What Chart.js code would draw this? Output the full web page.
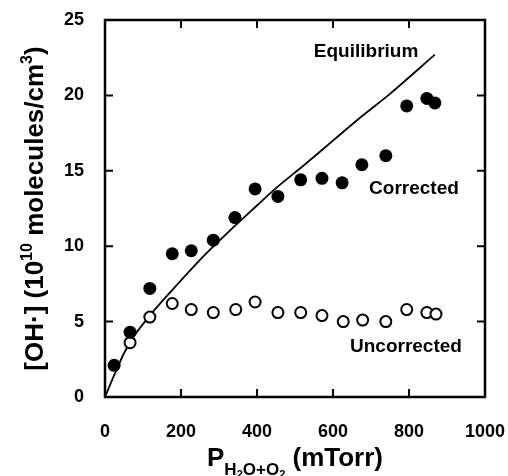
<!DOCTYPE html>
<html lang="en">
<head>
  <meta charset="UTF-8" />
  <title>OH concentration vs pressure</title>
  <script src="https://cdn.jsdelivr.net/npm/chart.js"></script>
  <style>
    html, body { margin: 0; padding: 0; background: #fff; }
    #wrap { width: 508px; height: 476px; }
  </style>
</head>
<body>
  <div id="wrap"><canvas id="chart" width="508" height="476"></canvas></div>
  <script>
    // Corrected [OH] (filled circles)
    const correctedP  = [24, 66, 118, 177, 227, 285, 342, 395, 455, 515, 571, 624, 676, 739, 794, 847, 868];
    const correctedOH = [2.1, 4.3, 7.2, 9.5, 9.7, 10.4, 11.9, 13.8, 13.3, 14.4, 14.5, 14.2, 15.4, 16.0, 19.3, 19.8, 19.5];

    // Uncorrected [OH] (open circles)
    const uncorrectedP  = [66, 118, 177, 227, 285, 344, 395, 455, 515, 571, 627, 678, 739, 794, 847, 871];
    const uncorrectedOH = [3.6, 5.3, 6.2, 5.8, 5.6, 5.8, 6.3, 5.6, 5.6, 5.4, 5.0, 5.1, 5.0, 5.8, 5.6, 5.5];

    // Equilibrium curve
    const equilP  = [0, 20, 50, 75, 118, 170, 250, 325, 400, 450, 525, 600, 675, 750, 868];
    const equilOH = [0, 1.2, 2.9, 4.0, 5.4, 6.9, 9.1, 10.95, 12.7, 13.85, 15.4, 17.0, 18.6, 20.1, 22.7];

    const xTicks = [0, 200, 400, 600, 800, 1000];
    const yTicks = [0, 5, 10, 15, 20, 25];

    // curve labels: [text, x value, y value]
    const curveLabels = [
      ["Equilibrium", 687, 22.9],
      ["Corrected", 813, 13.8],
      ["Uncorrected", 792, 3.3]
    ];

    const FONT = "'Liberation Sans', Arial, sans-serif";

    function pairs(xs, ys) {
      return xs.map((x, i) => ({ x: x, y: ys[i] }));
    }

    // draw a run of text pieces with different sizes / offsets
    function drawPieces(ctx, pieces, cx, baseY) {
      let total = 0;
      pieces.forEach(p => {
        ctx.font = "bold " + p.size + "px " + FONT;
        p.w = ctx.measureText(p.text).width;
        total += p.w;
      });
      let x = cx - total / 2;
      ctx.textAlign = "left";
      ctx.textBaseline = "alphabetic";
      pieces.forEach(p => {
        ctx.font = "bold " + p.size + "px " + FONT;
        ctx.fillText(p.text, x, baseY + (p.dy || 0));
        x += p.w;
      });
    }

    const framePlugin = {
      id: "frame",
      afterDraw(chart) {
        const ctx = chart.ctx;
        const a = chart.chartArea;
        const xs = chart.scales.x, ys = chart.scales.y;
        ctx.save();
        ctx.strokeStyle = "#000";
        ctx.fillStyle = "#000";
        ctx.lineWidth = 2.5;
        ctx.strokeRect(a.left, a.top, a.right - a.left, a.bottom - a.top);

        // inward ticks on all four sides
        const tl = 8;
        ctx.lineWidth = 2;
        ctx.beginPath();
        xTicks.slice(1, -1).forEach(v => {
          const px = xs.getPixelForValue(v);
          ctx.moveTo(px, a.bottom); ctx.lineTo(px, a.bottom - tl);
          ctx.moveTo(px, a.top); ctx.lineTo(px, a.top + tl);
        });
        yTicks.slice(1, -1).forEach(v => {
          const py = ys.getPixelForValue(v);
          ctx.moveTo(a.left, py); ctx.lineTo(a.left + tl, py);
          ctx.moveTo(a.right, py); ctx.lineTo(a.right - tl, py);
        });
        ctx.stroke();

        // tick labels
        ctx.font = "bold 18px " + FONT;
        ctx.textBaseline = "middle";
        ctx.textAlign = "right";
        yTicks.forEach(v => ctx.fillText(String(v), a.left - 21, ys.getPixelForValue(v)));
        ctx.textAlign = "center";
        xTicks.forEach(v => ctx.fillText(String(v), xs.getPixelForValue(v), 432));

        // curve labels
        ctx.font = "bold 19px " + FONT;
        ctx.textAlign = "center";
        ctx.textBaseline = "middle";
        curveLabels.forEach(l => {
          ctx.fillText(l[0], xs.getPixelForValue(l[1]), ys.getPixelForValue(l[2]));
        });

        // x axis title
        drawPieces(ctx, [
          { text: "P", size: 26 },
          { text: "H", size: 17, dy: 9 },
          { text: "2", size: 11, dy: 12 },
          { text: "O+O", size: 17, dy: 9 },
          { text: "2", size: 11, dy: 12 },
          { text: " (mTorr)", size: 26 }
        ], (a.left + a.right) / 2, 466);

        // y axis title, rotated
        ctx.translate(42.5, (a.top + a.bottom) / 2);
        ctx.rotate(-Math.PI / 2);
        drawPieces(ctx, [
          { text: "[OH\u00b7] (10", size: 26 },
          { text: "10", size: 16, dy: -11 },
          { text: " molecules/cm", size: 26 },
          { text: "3", size: 16, dy: -11 },
          { text: ")", size: 26 }
        ], 0, 0);
        ctx.restore();
      }
    };

    new Chart(document.getElementById("chart"), {
      type: "scatter",
      data: {
        datasets: [
          {
            label: "Equilibrium",
            data: pairs(equilP, equilOH),
            showLine: true,
            borderColor: "#000",
            borderWidth: 1.8,
            pointRadius: 0,
            tension: 0.3,
            order: 3
          },
          {
            label: "Uncorrected",
            data: pairs(uncorrectedP, uncorrectedOH),
            pointRadius: 5.5,
            pointBorderWidth: 2,
            pointBackgroundColor: "#fff",
            pointBorderColor: "#000",
            order: 2
          },
          {
            label: "Corrected",
            data: pairs(correctedP, correctedOH),
            pointRadius: 6.5,
            pointBorderWidth: 0,
            pointBackgroundColor: "#000",
            pointBorderColor: "#000",
            order: 1
          }
        ]
      },
      options: {
        responsive: false,
        animation: false,
        layout: { padding: { left: 0, top: 20, right: 23, bottom: 0 } },
        plugins: {
          legend: { display: false },
          tooltip: { enabled: false }
        },
        scales: {
          x: {
            type: "linear",
            min: 0, max: 1000,
            afterFit(scale) { scale.height = 79; },
            grid: { display: false, drawTicks: false },
            border: { display: false },
            ticks: { display: false }
          },
          y: {
            type: "linear",
            min: 0, max: 25,
            afterFit(scale) { scale.width = 105; },
            grid: { display: false, drawTicks: false },
            border: { display: false },
            ticks: { display: false }
          }
        }
      },
      plugins: [framePlugin]
    });
  </script>
</body>
</html>
